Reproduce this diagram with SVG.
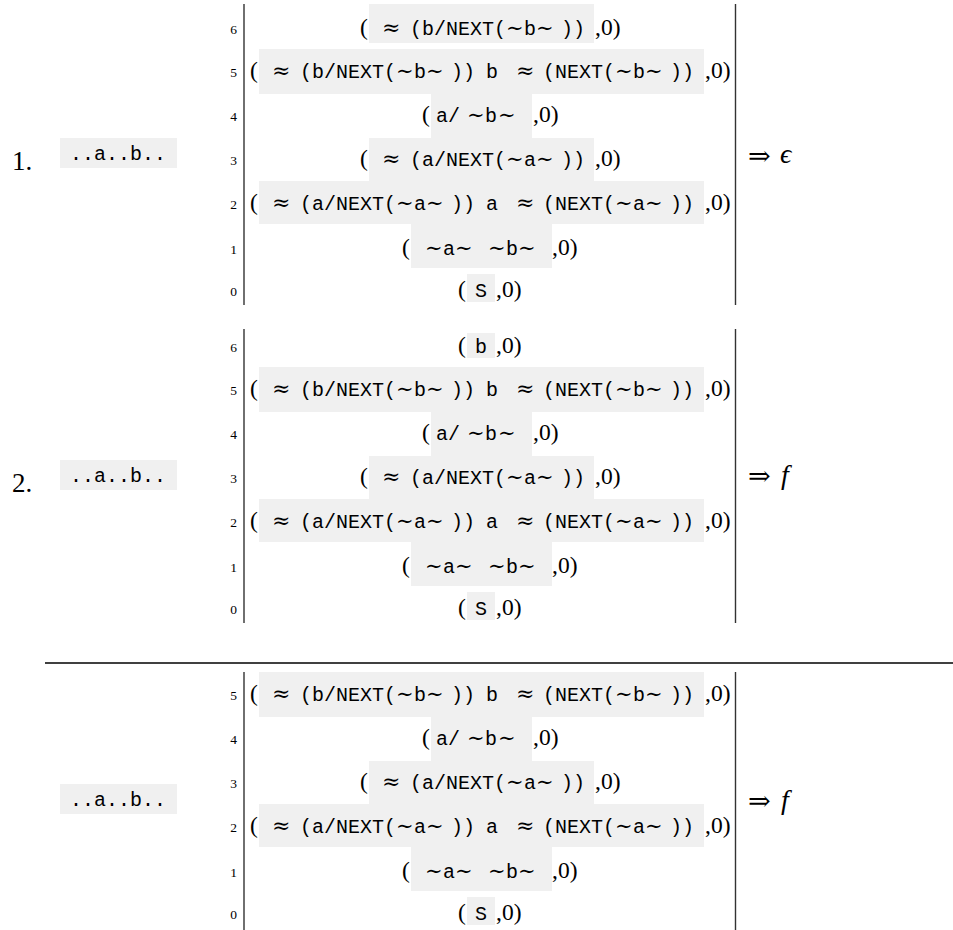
<svg xmlns="http://www.w3.org/2000/svg" width="953" height="930" viewBox="0 0 953 930">
<style>
.box{fill:#f0f0f0}
.tt{font-family:"Liberation Mono",monospace;font-size:20px;fill:#000}
.rm{font-family:"Liberation Serif",serif;font-size:23.5px;fill:#000}
.m{font-family:"DejaVu Serif",serif;font-size:21px;fill:#000}
.ap{font-family:"DejaVu Serif",serif;font-size:22px;fill:#000}
.lbl{font-family:"Liberation Serif",serif;font-size:13.5px;text-anchor:middle;fill:#000}
.num{font-family:"Liberation Serif",serif;font-size:27px;fill:#000}
.arr{font-family:"DejaVu Serif",serif;font-size:27px;fill:#000}
.it{font-family:"Liberation Serif","DejaVu Serif",serif;font-size:28px;font-style:italic;fill:#000}
.bar{stroke:#333;stroke-width:1.4;fill:none}
</style>
<rect width="953" height="930" fill="#fff"/>

<!-- ===== Section 1 ===== -->
<g id="sec1">
<g id="s1-input">
<text class="num" x="12" y="170">1.</text>
<rect class="box" x="60" y="138" width="117" height="30"/>
<text class="tt" x="70" y="160">..a..b..</text>
</g>
<g id="s1-table">
<line class="bar" x1="244" y1="4" x2="244" y2="305"/>
<line class="bar" x1="735.5" y1="4" x2="735.5" y2="305"/>
<g id="s1-r6">
<text class="lbl" x="233.5" y="33.5">6</text>
<rect class="box" x="369" y="4" width="225" height="39"/>
<text class="rm" x="360" y="35">(</text>
<text class="ap" x="382" y="35">≈</text>
<text class="tt" x="410" y="35">(b/NEXT(</text>
<text class="m" x="506" y="35">∼</text>
<text class="tt" x="524" y="35">b</text>
<text class="m" x="536" y="35">∼</text>
<text class="tt" x="561" y="35">))</text>
<text class="rm" x="595" y="35">,0)</text>
</g>
<g id="s1-r5">
<text class="lbl" x="233.5" y="76.5">5</text>
<rect class="box" x="259" y="49" width="445" height="45"/>
<text class="rm" x="250" y="78">(</text>
<text class="ap" x="272" y="78">≈</text>
<text class="tt" x="300" y="78">(b/NEXT(</text>
<text class="m" x="396" y="78">∼</text>
<text class="tt" x="414" y="78">b</text>
<text class="m" x="426" y="78">∼</text>
<text class="tt" x="451" y="78">))</text>
<text class="tt" x="486" y="78">b</text>
<text class="ap" x="516" y="78">≈</text>
<text class="tt" x="543" y="78">(NEXT(</text>
<text class="m" x="615" y="78">∼</text>
<text class="tt" x="633" y="78">b</text>
<text class="m" x="645" y="78">∼</text>
<text class="tt" x="670" y="78">))</text>
<text class="rm" x="705" y="78">,0)</text>
</g>
<g id="s1-r4">
<text class="lbl" x="233.5" y="120.5">4</text>
<rect class="box" x="431" y="94" width="101" height="44"/>
<text class="rm" x="422" y="122">(</text>
<text class="tt" x="436" y="122">a/</text>
<text class="m" x="467" y="122">∼</text>
<text class="tt" x="485" y="122">b</text>
<text class="m" x="498" y="122">∼</text>
<text class="rm" x="533" y="122">,0)</text>
</g>
<g id="s1-r3">
<text class="lbl" x="233.5" y="164.5">3</text>
<rect class="box" x="369" y="138" width="225" height="43"/>
<text class="rm" x="360" y="166">(</text>
<text class="ap" x="382" y="166">≈</text>
<text class="tt" x="410" y="166">(a/NEXT(</text>
<text class="m" x="506" y="166">∼</text>
<text class="tt" x="524" y="166">a</text>
<text class="m" x="536" y="166">∼</text>
<text class="tt" x="561" y="166">))</text>
<text class="rm" x="595" y="166">,0)</text>
</g>
<g id="s1-r2">
<text class="lbl" x="233.5" y="208.5">2</text>
<rect class="box" x="259" y="181" width="445" height="43"/>
<text class="rm" x="250" y="210">(</text>
<text class="ap" x="272" y="210">≈</text>
<text class="tt" x="300" y="210">(a/NEXT(</text>
<text class="m" x="396" y="210">∼</text>
<text class="tt" x="414" y="210">a</text>
<text class="m" x="426" y="210">∼</text>
<text class="tt" x="451" y="210">))</text>
<text class="tt" x="486" y="210">a</text>
<text class="ap" x="516" y="210">≈</text>
<text class="tt" x="543" y="210">(NEXT(</text>
<text class="m" x="615" y="210">∼</text>
<text class="tt" x="633" y="210">a</text>
<text class="m" x="645" y="210">∼</text>
<text class="tt" x="670" y="210">))</text>
<text class="rm" x="705" y="210">,0)</text>
</g>
<g id="s1-r1">
<text class="lbl" x="233.5" y="253.5">1</text>
<rect class="box" x="411" y="224" width="141" height="44"/>
<text class="rm" x="402" y="255">(</text>
<text class="m" x="425" y="255">∼</text>
<text class="tt" x="443" y="255">a</text>
<text class="m" x="455" y="255">∼</text>
<text class="m" x="488" y="255">∼</text>
<text class="tt" x="506" y="255">b</text>
<text class="m" x="518" y="255">∼</text>
<text class="rm" x="552" y="255">,0)</text>
</g>
<g id="s1-r0">
<text class="lbl" x="233.5" y="295.5">0</text>
<rect class="box" x="467" y="274" width="28" height="28"/>
<text class="rm" x="458" y="297">(</text>
<text class="tt" x="475" y="297">S</text>
<text class="rm" x="496" y="297">,0)</text>
</g>
</g>
<g id="s1-result">
<text class="arr" x="748" y="165">⇒</text>
<text class="it" x="780" y="163">ϵ</text>
</g>
</g>

<!-- ===== Section 2 ===== -->
<g id="sec2">
<g id="s2-input">
<text class="num" x="12" y="492">2.</text>
<rect class="box" x="60" y="460" width="117" height="30"/>
<text class="tt" x="70" y="482">..a..b..</text>
</g>
<g id="s2-table">
<line class="bar" x1="244" y1="329" x2="244" y2="623"/>
<line class="bar" x1="735.5" y1="329" x2="735.5" y2="623"/>
<g id="s2-r6">
<text class="lbl" x="233.5" y="352">6</text>
<rect class="box" x="467" y="333" width="28" height="25"/>
<text class="rm" x="458" y="353">(</text>
<text class="tt" x="475" y="353">b</text>
<text class="rm" x="496" y="353">,0)</text>
</g>
<g id="s2-r5">
<text class="lbl" x="233.5" y="394.5">5</text>
<rect class="box" x="259" y="367" width="445" height="45"/>
<text class="rm" x="250" y="396">(</text>
<text class="ap" x="272" y="396">≈</text>
<text class="tt" x="300" y="396">(b/NEXT(</text>
<text class="m" x="396" y="396">∼</text>
<text class="tt" x="414" y="396">b</text>
<text class="m" x="426" y="396">∼</text>
<text class="tt" x="451" y="396">))</text>
<text class="tt" x="486" y="396">b</text>
<text class="ap" x="516" y="396">≈</text>
<text class="tt" x="543" y="396">(NEXT(</text>
<text class="m" x="615" y="396">∼</text>
<text class="tt" x="633" y="396">b</text>
<text class="m" x="645" y="396">∼</text>
<text class="tt" x="670" y="396">))</text>
<text class="rm" x="705" y="396">,0)</text>
</g>
<g id="s2-r4">
<text class="lbl" x="233.5" y="438.5">4</text>
<rect class="box" x="431" y="412" width="101" height="44"/>
<text class="rm" x="422" y="440">(</text>
<text class="tt" x="436" y="440">a/</text>
<text class="m" x="467" y="440">∼</text>
<text class="tt" x="485" y="440">b</text>
<text class="m" x="498" y="440">∼</text>
<text class="rm" x="533" y="440">,0)</text>
</g>
<g id="s2-r3">
<text class="lbl" x="233.5" y="482.5">3</text>
<rect class="box" x="369" y="456" width="225" height="43"/>
<text class="rm" x="360" y="484">(</text>
<text class="ap" x="382" y="484">≈</text>
<text class="tt" x="410" y="484">(a/NEXT(</text>
<text class="m" x="506" y="484">∼</text>
<text class="tt" x="524" y="484">a</text>
<text class="m" x="536" y="484">∼</text>
<text class="tt" x="561" y="484">))</text>
<text class="rm" x="595" y="484">,0)</text>
</g>
<g id="s2-r2">
<text class="lbl" x="233.5" y="526.5">2</text>
<rect class="box" x="259" y="499" width="445" height="43"/>
<text class="rm" x="250" y="528">(</text>
<text class="ap" x="272" y="528">≈</text>
<text class="tt" x="300" y="528">(a/NEXT(</text>
<text class="m" x="396" y="528">∼</text>
<text class="tt" x="414" y="528">a</text>
<text class="m" x="426" y="528">∼</text>
<text class="tt" x="451" y="528">))</text>
<text class="tt" x="486" y="528">a</text>
<text class="ap" x="516" y="528">≈</text>
<text class="tt" x="543" y="528">(NEXT(</text>
<text class="m" x="615" y="528">∼</text>
<text class="tt" x="633" y="528">a</text>
<text class="m" x="645" y="528">∼</text>
<text class="tt" x="670" y="528">))</text>
<text class="rm" x="705" y="528">,0)</text>
</g>
<g id="s2-r1">
<text class="lbl" x="233.5" y="571.5">1</text>
<rect class="box" x="411" y="542" width="141" height="44"/>
<text class="rm" x="402" y="573">(</text>
<text class="m" x="425" y="573">∼</text>
<text class="tt" x="443" y="573">a</text>
<text class="m" x="455" y="573">∼</text>
<text class="m" x="488" y="573">∼</text>
<text class="tt" x="506" y="573">b</text>
<text class="m" x="518" y="573">∼</text>
<text class="rm" x="552" y="573">,0)</text>
</g>
<g id="s2-r0">
<text class="lbl" x="233.5" y="613.5">0</text>
<rect class="box" x="467" y="592" width="28" height="28"/>
<text class="rm" x="458" y="615">(</text>
<text class="tt" x="475" y="615">S</text>
<text class="rm" x="496" y="615">,0)</text>
</g>
</g>
<g id="s2-result">
<text class="arr" x="748" y="485">⇒</text>
<text class="it" x="781" y="484">f</text>
</g>
</g>

<!-- separator rule -->
<line x1="45" y1="663" x2="953" y2="663" stroke="#000" stroke-width="1.3"/>

<!-- ===== Section 3 ===== -->
<g id="sec3">
<g id="s3-input">
<rect class="box" x="60" y="784" width="117" height="30"/>
<text class="tt" x="70" y="806">..a..b..</text>
</g>
<g id="s3-table">
<line class="bar" x1="244" y1="672" x2="244" y2="930"/>
<line class="bar" x1="735.5" y1="672" x2="735.5" y2="930"/>
<g id="s3-r5">
<text class="lbl" x="233.5" y="699.5">5</text>
<rect class="box" x="259" y="672" width="445" height="45"/>
<text class="rm" x="250" y="701">(</text>
<text class="ap" x="272" y="701">≈</text>
<text class="tt" x="300" y="701">(b/NEXT(</text>
<text class="m" x="396" y="701">∼</text>
<text class="tt" x="414" y="701">b</text>
<text class="m" x="426" y="701">∼</text>
<text class="tt" x="451" y="701">))</text>
<text class="tt" x="486" y="701">b</text>
<text class="ap" x="516" y="701">≈</text>
<text class="tt" x="543" y="701">(NEXT(</text>
<text class="m" x="615" y="701">∼</text>
<text class="tt" x="633" y="701">b</text>
<text class="m" x="645" y="701">∼</text>
<text class="tt" x="670" y="701">))</text>
<text class="rm" x="705" y="701">,0)</text>
</g>
<g id="s3-r4">
<text class="lbl" x="233.5" y="743.5">4</text>
<rect class="box" x="431" y="717" width="101" height="44"/>
<text class="rm" x="422" y="745">(</text>
<text class="tt" x="436" y="745">a/</text>
<text class="m" x="467" y="745">∼</text>
<text class="tt" x="485" y="745">b</text>
<text class="m" x="498" y="745">∼</text>
<text class="rm" x="533" y="745">,0)</text>
</g>
<g id="s3-r3">
<text class="lbl" x="233.5" y="787.5">3</text>
<rect class="box" x="369" y="761" width="225" height="43"/>
<text class="rm" x="360" y="789">(</text>
<text class="ap" x="382" y="789">≈</text>
<text class="tt" x="410" y="789">(a/NEXT(</text>
<text class="m" x="506" y="789">∼</text>
<text class="tt" x="524" y="789">a</text>
<text class="m" x="536" y="789">∼</text>
<text class="tt" x="561" y="789">))</text>
<text class="rm" x="595" y="789">,0)</text>
</g>
<g id="s3-r2">
<text class="lbl" x="233.5" y="831.5">2</text>
<rect class="box" x="259" y="804" width="445" height="43"/>
<text class="rm" x="250" y="833">(</text>
<text class="ap" x="272" y="833">≈</text>
<text class="tt" x="300" y="833">(a/NEXT(</text>
<text class="m" x="396" y="833">∼</text>
<text class="tt" x="414" y="833">a</text>
<text class="m" x="426" y="833">∼</text>
<text class="tt" x="451" y="833">))</text>
<text class="tt" x="486" y="833">a</text>
<text class="ap" x="516" y="833">≈</text>
<text class="tt" x="543" y="833">(NEXT(</text>
<text class="m" x="615" y="833">∼</text>
<text class="tt" x="633" y="833">a</text>
<text class="m" x="645" y="833">∼</text>
<text class="tt" x="670" y="833">))</text>
<text class="rm" x="705" y="833">,0)</text>
</g>
<g id="s3-r1">
<text class="lbl" x="233.5" y="876.5">1</text>
<rect class="box" x="411" y="847" width="141" height="44"/>
<text class="rm" x="402" y="878">(</text>
<text class="m" x="425" y="878">∼</text>
<text class="tt" x="443" y="878">a</text>
<text class="m" x="455" y="878">∼</text>
<text class="m" x="488" y="878">∼</text>
<text class="tt" x="506" y="878">b</text>
<text class="m" x="518" y="878">∼</text>
<text class="rm" x="552" y="878">,0)</text>
</g>
<g id="s3-r0">
<text class="lbl" x="233.5" y="918.5">0</text>
<rect class="box" x="467" y="897" width="28" height="28"/>
<text class="rm" x="458" y="920">(</text>
<text class="tt" x="475" y="920">S</text>
<text class="rm" x="496" y="920">,0)</text>
</g>
</g>
<g id="s3-result">
<text class="arr" x="748" y="810">⇒</text>
<text class="it" x="781" y="809">f</text>
</g>
</g>
</svg>
